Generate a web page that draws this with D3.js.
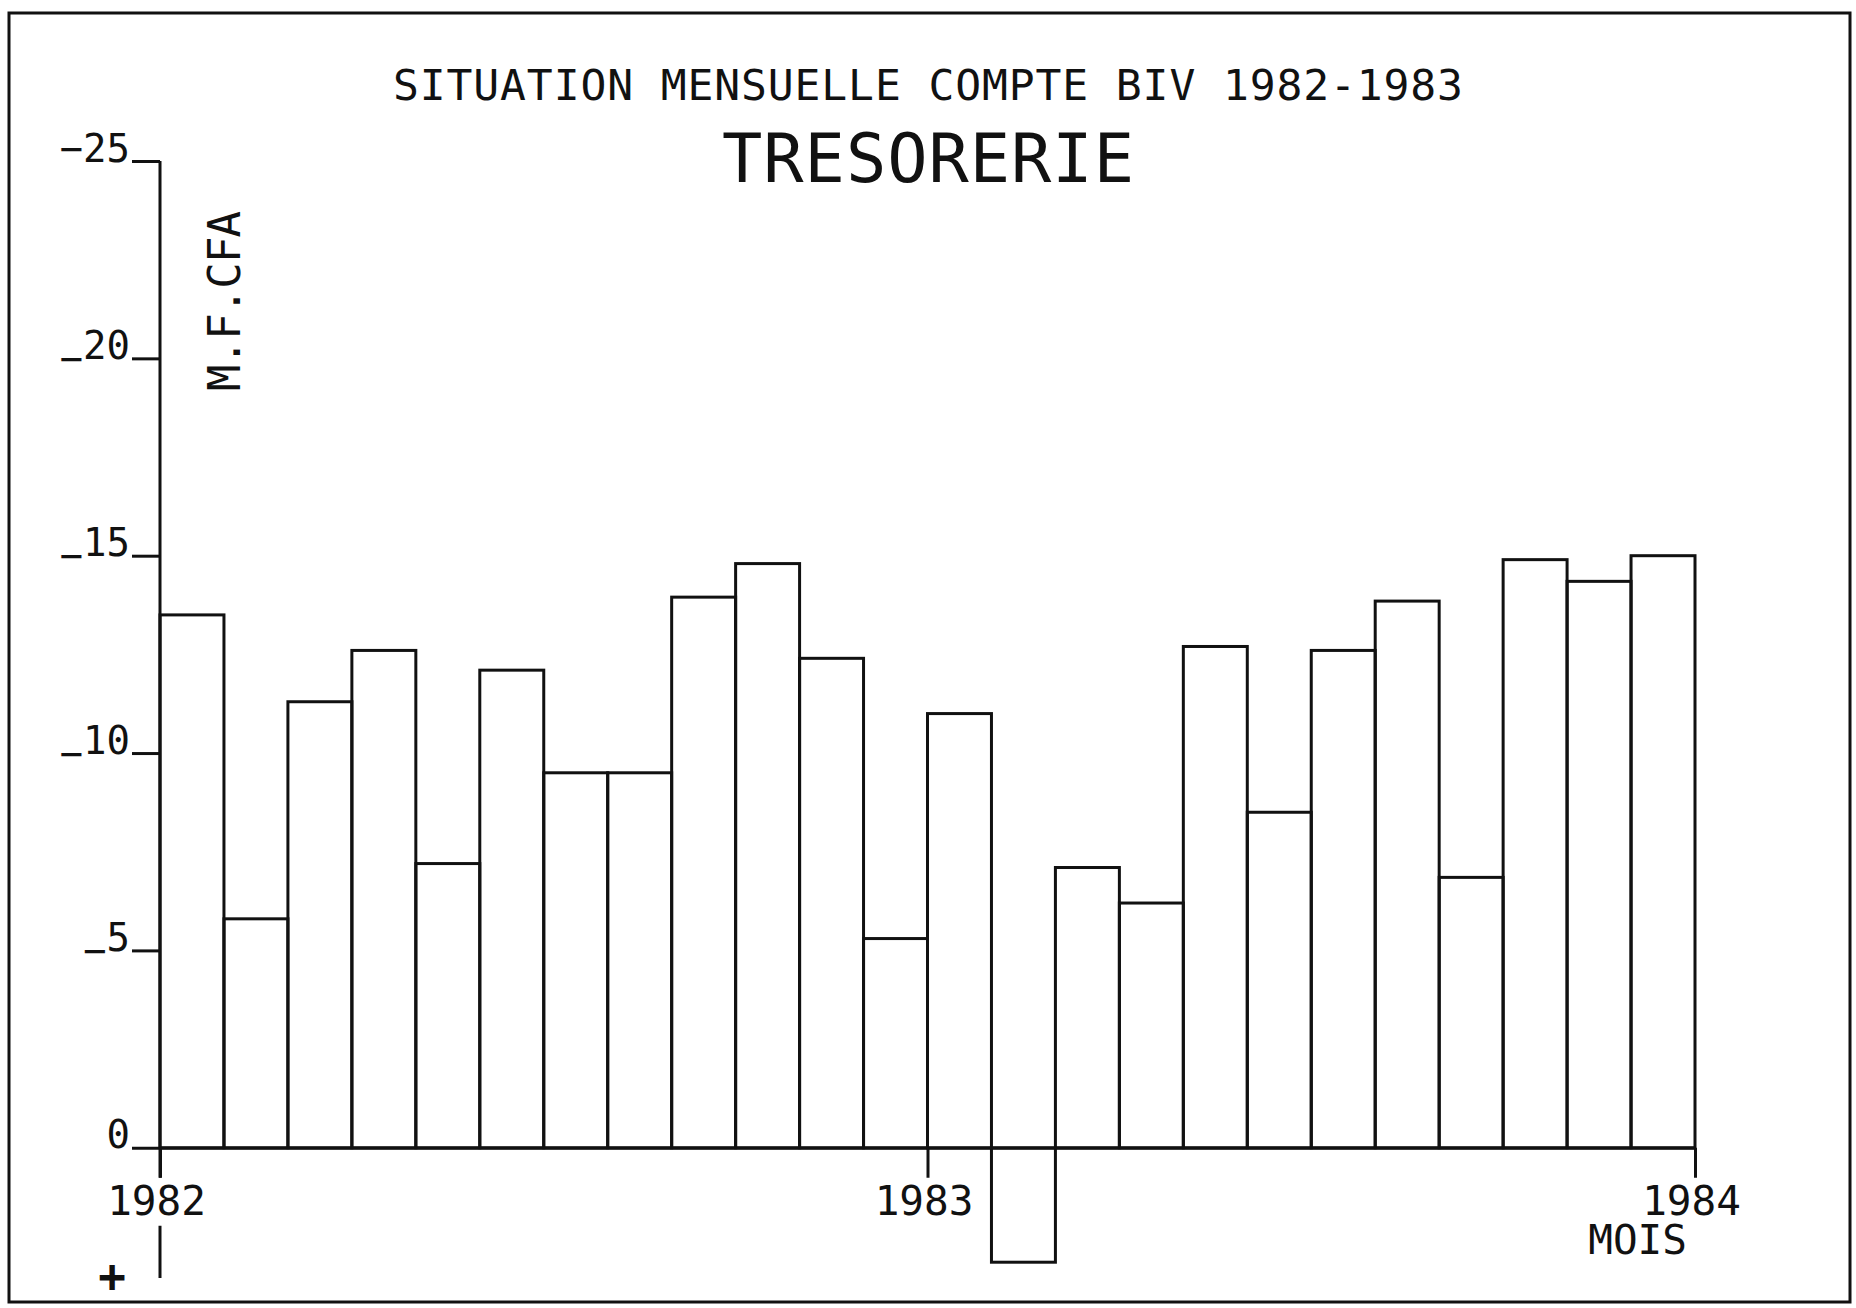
<!DOCTYPE html>
<html>
<head>
<meta charset="utf-8">
<title>TRESORERIE</title>
<script src="https://cdn.jsdelivr.net/npm/d3@7/dist/d3.min.js"></script>
<style>
  html, body { margin: 0; padding: 0; background: #fff; }
  svg { display: block; }
  text { font-family: "DejaVu Sans Mono", "Liberation Mono", monospace; fill: #111; }
</style>
</head>
<body>
<div id="chart"></div>
<script>
// Monthly values, M.F.CFA (axis reads negative upward, "+" below zero)
const months = [
  '1982-01', '1982-02', '1982-03', '1982-04', '1982-05', '1982-06',
  '1982-07', '1982-08', '1982-09', '1982-10', '1982-11', '1982-12',
  '1983-01', '1983-02', '1983-03', '1983-04', '1983-05', '1983-06',
  '1983-07', '1983-08', '1983-09', '1983-10', '1983-11', '1983-12'
];
const tresorerie = [
  -13.5, -5.8, -11.3, -12.6, -7.2, -12.1, -9.5, -9.5, -13.95, -14.8, -12.4, -5.3,
  -11.0, 2.9, -7.1, -6.2, -12.7, -8.5, -12.6, -13.85, -6.85, -14.9, -14.35, -15.0
];
const yTicks = [-25, -20, -15, -10, -5, 0];
const yearTicks = ['1982', '1983', '1984'];
const yDomain = [-25, 3.3];

const W = 1856, H = 1308;
const plot = { left: 160, right: 1695, top: 161, bottom: 1278 };
const ink = '#111';

const svg = d3.select('#chart').append('svg')
  .attr('width', W)
  .attr('height', H)
  .attr('viewBox', `0 0 ${W} ${H}`);

// outer frame
svg.append('rect')
  .attr('x', 9).attr('y', 13)
  .attr('width', 1841).attr('height', 1289)
  .attr('fill', 'none').attr('stroke', ink).attr('stroke-width', 3);

// scales
const x = d3.scaleBand()
  .domain(months)
  .range([plot.left, plot.right])
  .padding(0);

const parseYear = d3.timeParse('%Y');
const xYears = d3.scaleTime()
  .domain([parseYear(yearTicks[0]), parseYear(yearTicks[yearTicks.length - 1])])
  .range([plot.left, plot.right]);

const y = d3.scaleLinear()
  .domain(yDomain)
  .range([plot.top, plot.bottom]);

// titles
svg.append('text')
  .attr('x', 928).attr('y', 100)
  .attr('text-anchor', 'middle')
  .attr('font-size', 43)
  .attr('textLength', 1070)
  .attr('lengthAdjust', 'spacing')
  .text('SITUATION MENSUELLE COMPTE BIV 1982-1983');

svg.append('text')
  .attr('x', 928).attr('y', 182)
  .attr('text-anchor', 'middle')
  .attr('font-size', 67)
  .attr('textLength', 412)
  .attr('lengthAdjust', 'spacing')
  .text('TRESORERIE');

// unit label
svg.append('text')
  .attr('transform', 'translate(240, 301) rotate(-90)')
  .attr('text-anchor', 'middle')
  .attr('font-size', 44)
  .attr('textLength', 180)
  .attr('lengthAdjust', 'spacing')
  .text('M.F.CFA');

// bars
svg.append('g')
  .selectAll('rect')
  .data(months.map((m, i) => ({ month: m, value: tresorerie[i] })))
  .join('rect')
  .attr('x', d => x(d.month))
  .attr('y', d => Math.min(y(d.value), y(0)))
  .attr('width', x.bandwidth())
  .attr('height', d => Math.abs(y(d.value) - y(0)))
  .attr('fill', 'none')
  .attr('stroke', ink)
  .attr('stroke-width', 3);

// y axis
const yAxis = svg.append('g')
  .attr('transform', `translate(${plot.left},0)`)
  .call(d3.axisLeft(y)
    .tickValues(yTicks)
    .tickSize(28)
    .tickSizeOuter(0)
    .tickPadding(2));

yAxis.select('.domain').remove();
yAxis.selectAll('.tick line').attr('stroke', ink).attr('stroke-width', 3);
yAxis.selectAll('.tick text')
  .attr('dy', 0)
  .attr('font-size', 39)
  .attr('fill', ink)
  .each(function (d) {
    const t = d3.select(this).text(null);
    if (d < 0) {
      // plotter draws the minus sign on the baseline, except on the top label
      const drop = d === yTicks[0] ? 0 : 13;
      t.append('tspan').attr('dy', drop).text('\u2212');
      t.append('tspan').attr('dy', -drop).text(Math.abs(d));
    } else {
      t.text(d);
    }
  });

// y axis spine, broken around the 1982 label
const spine = svg.append('g')
  .attr('stroke', ink)
  .attr('stroke-width', 3);
spine.append('line')
  .attr('x1', plot.left).attr('x2', plot.left)
  .attr('y1', y(yDomain[0])).attr('y2', y(0) + 30);
spine.append('line')
  .attr('x1', plot.left).attr('x2', plot.left)
  .attr('y1', y(0) + 78).attr('y2', y(yDomain[1]));

// "+" direction marker at the bottom of the y axis
svg.append('text')
  .attr('x', 112).attr('y', y(yDomain[1]) + 14)
  .attr('text-anchor', 'middle')
  .attr('font-family', 'DejaVu Sans')
  .attr('font-weight', 'bold')
  .attr('font-size', 46)
  .text('+');

// x axis with year ticks
const xAxis = svg.append('g')
  .attr('transform', `translate(0,${y(0)})`)
  .call(d3.axisBottom(xYears)
    .tickValues(yearTicks.map(parseYear))
    .tickSize(30)
    .tickSizeOuter(0)
    .tickFormat(d3.timeFormat('%Y')));

xAxis.select('.domain').attr('stroke', ink).attr('stroke-width', 3);
xAxis.selectAll('.tick line').attr('stroke', ink).attr('stroke-width', 3);
xAxis.selectAll('.tick text')
  .attr('y', 67)
  .attr('dy', 0)
  .attr('dx', -4)
  .attr('font-size', 41)
  .attr('fill', ink);

svg.append('text')
  .attr('x', 1687).attr('y', y(0) + 106)
  .attr('text-anchor', 'end')
  .attr('font-size', 41)
  .text('MOIS');
</script>
</body>
</html>
